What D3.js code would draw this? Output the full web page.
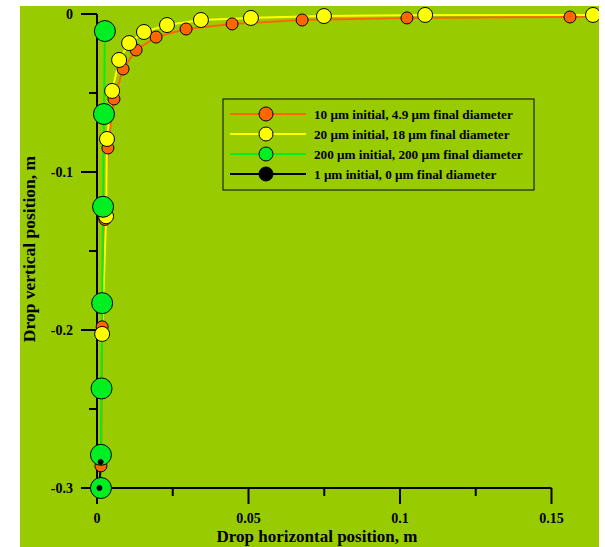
<!DOCTYPE html>
<html>
<head>
<meta charset="utf-8">
<script src="https://cdn.jsdelivr.net/npm/d3@7"></script>
<style>
  body { margin: 0; background: #fff; }
  text { font-family: "Liberation Serif", "Times New Roman", serif; font-weight: bold; }
</style>
</head>
<body>
<div id="chart"></div>
<script>
// drop trajectories, [horizontal m, vertical m]
const drop10 = [
  [0.0013, -0.286], [0.0017, -0.198], [0.0026, -0.130], [0.0036, -0.0848],
  [0.0056, -0.0538], [0.0086, -0.0348], [0.0129, -0.0228], [0.0195, -0.0146],
  [0.0294, -0.0095], [0.0446, -0.0063], [0.0677, -0.0038], [0.1023, -0.0025],
  [0.1561, -0.0019], [0.2300, -0.0012]
];
const drop20 = [
  [0.0017, -0.2025], [0.0030, -0.128], [0.0033, -0.0791],
  [0.0050, -0.0487], [0.0073, -0.0291], [0.0106, -0.0184], [0.0155, -0.0114],
  [0.0231, -0.0070], [0.0343, -0.0038], [0.0508, -0.0025], [0.0749, -0.0013],
  [0.1083, -0.0006], [0.1637, -0.0006]
];
const drop200 = [
  [0.0013, -0.300], [0.0013, -0.279], [0.0015, -0.237], [0.0017, -0.183],
  [0.0020, -0.122], [0.0023, -0.0633], [0.0026, -0.0108]
];
const drop1 = [
  [0.0008, -0.300], [0.0012, -0.2835]
];

const series = [
  { name: "10 \u03bcm initial, 4.9 \u03bcm final diameter", data: drop10, color: "#ff6600", r: 6 },
  { name: "20 \u03bcm initial, 18 \u03bcm final diameter", data: drop20, color: "#ffff00", r: 7.5 },
  { name: "200 \u03bcm initial, 200 \u03bcm final diameter", data: drop200, color: "#00ee22", r: 10.5 },
  { name: "1 \u03bcm initial, 0 \u03bcm final diameter", data: drop1, color: "#000000", r: 2.5 }
];

const xTicks = [0, 0.05, 0.1, 0.15];
const xMinor = [0.025, 0.075, 0.125];
const yTicks = [0, -0.1, -0.2, -0.3];
const yMinor = [-0.05, -0.15, -0.25];

const W = 605, H = 547;
const svg = d3.select("#chart").append("svg")
  .attr("width", W).attr("height", H);

// plot background
svg.append("rect")
  .attr("x", 20).attr("y", 6)
  .attr("width", 579).attr("height", 541)
  .attr("fill", "#99cc00");

svg.append("clipPath").attr("id", "clip")
  .append("rect").attr("x", 20).attr("y", 6).attr("width", 579).attr("height", 541);

const x = d3.scaleLinear().domain([0, 0.15]).range([97, 551.5]);
const y = d3.scaleLinear().domain([0, -0.3]).range([14, 488]);

// x axis
const xAxis = svg.append("g").attr("transform", `translate(0,${y(-0.3)})`);
xAxis.append("line").attr("x1", x(0)).attr("x2", x(0.15)).attr("stroke", "#000").attr("stroke-width", 2);
xAxis.selectAll(".maj").data(xTicks).join("line")
  .attr("x1", d => x(d)).attr("x2", d => x(d)).attr("y1", 0).attr("y2", 16)
  .attr("stroke", "#000").attr("stroke-width", 2);
xAxis.selectAll(".min").data(xMinor).join("line")
  .attr("x1", d => x(d)).attr("x2", d => x(d)).attr("y1", 0).attr("y2", 8)
  .attr("stroke", "#000").attr("stroke-width", 2);
xAxis.selectAll("text").data(xTicks).join("text")
  .attr("x", d => x(d)).attr("y", 35)
  .attr("text-anchor", "middle").attr("font-size", 14)
  .text(d => String(d));

// y axis
const yAxis = svg.append("g").attr("transform", `translate(${x(0)},0)`);
yAxis.append("line").attr("y1", y(0)).attr("y2", y(-0.3)).attr("stroke", "#000").attr("stroke-width", 2);
yAxis.selectAll(".maj").data(yTicks).join("line")
  .attr("y1", d => y(d)).attr("y2", d => y(d)).attr("x1", -16).attr("x2", 0)
  .attr("stroke", "#000").attr("stroke-width", 2);
yAxis.selectAll(".min").data(yMinor).join("line")
  .attr("y1", d => y(d)).attr("y2", d => y(d)).attr("x1", -8).attr("x2", 0)
  .attr("stroke", "#000").attr("stroke-width", 2);
yAxis.selectAll("text").data(yTicks).join("text")
  .attr("x", -24).attr("y", d => y(d) + 5)
  .attr("text-anchor", "end").attr("font-size", 14)
  .text(d => String(d));

// axis titles
svg.append("text")
  .attr("x", 317).attr("y", 542)
  .attr("text-anchor", "middle").attr("font-size", 17)
  .text("Drop horizontal position, m");
svg.append("text")
  .attr("transform", "translate(35,249) rotate(-90)")
  .attr("text-anchor", "middle").attr("font-size", 17.5)
  .text("Drop vertical position, m");

// series
const plot = svg.append("g").attr("clip-path", "url(#clip)");
const line = d3.line().x(d => x(d[0])).y(d => y(d[1]));

series.forEach(s => {
  plot.append("path").datum(s.data)
    .attr("fill", "none").attr("stroke", s.color).attr("stroke-width", 2)
    .attr("d", line);
});
series.forEach(s => {
  plot.selectAll(null).data(s.data).join("circle")
    .attr("cx", d => x(d[0])).attr("cy", d => y(d[1])).attr("r", s.r)
    .attr("fill", s.color).attr("stroke", "#000").attr("stroke-width", 1);
});

// legend
const lg = svg.append("g").attr("transform", "translate(223,99)");
lg.append("rect").attr("width", 311).attr("height", 91)
  .attr("fill", "none").attr("stroke", "#000").attr("stroke-width", 1);
series.forEach((s, i) => {
  const row = lg.append("g").attr("transform", `translate(0,${15 + i * 20})`);
  row.append("line").attr("x1", 7).attr("x2", 83)
    .attr("stroke", s.color).attr("stroke-width", 2);
  row.append("circle").attr("cx", 43).attr("r", 7)
    .attr("fill", s.color).attr("stroke", "#000").attr("stroke-width", 1);
  row.append("text").attr("x", 91).attr("y", 4.5)
    .attr("font-size", 13.2).text(s.name);
});
</script>
</body>
</html>
